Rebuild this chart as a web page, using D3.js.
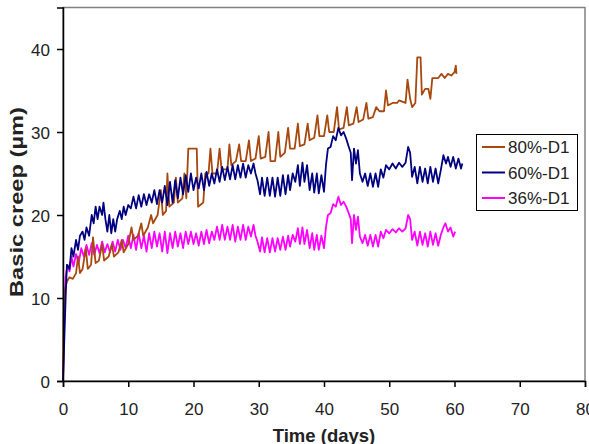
<!DOCTYPE html>
<html>
<head>
<meta charset="utf-8">
<script src="https://cdn.jsdelivr.net/npm/d3@7"></script>
<style>
body { margin: 0; background: #fff; }
svg { font-family: "Liberation Sans", Arial, sans-serif; }
</style>
</head>
<body>
<script>
var w = 589;
var h = 444;

// tick values
var xTicks = [0, 10, 20, 30, 40, 50, 60, 70, 80];
var yTicks = [0, 10, 20, 30, 40];

var names = ["80%-D1", "60%-D1", "36%-D1"];
var colors = ["#a8480f", "#000080", "#ff00ff"];

// [days, creep µm]
var s80 = [[0,0],[0.1,8],[0.3,11],[0.6,12],[1,12.5],[1.5,12.3],[2,13],[2.3,15],[2.6,13],[3,13.5],[3.5,16],[3.8,13.5],
  [4.3,14],[4.6,17.3],[5,14.2],[5.5,14.5],[6,16.5],[6.3,14.5],[7,15],[7.5,16.5],[7.8,15],[8.5,15.5],[9,17],[9.3,15.5],
  [10,16.5],[10.5,18.5],[10.8,17],[11.5,17.5],[12,19],[12.3,17.5],[13,18.5],[13.5,20],[13.8,19],[14.5,20],[15,23],[15.3,20],
  [15.8,20.5],[16,25],[16.3,21],[17,21.5],[17.3,24.5],[17.6,21.5],[18.3,22],[18.6,25],[18.9,22],[19.2,28],[20.5,28],[20.7,21],
  [21.5,21.5],[21.8,25],[22.3,25],[22.6,28],[22.9,25],[23.6,25],[24,28],[24.3,25.5],[25.2,25.5],[25.5,28.5],[25.8,26],
  [26.5,26.5],[27,28.5],[27.3,26.5],[28,26.5],[28.5,29],[28.8,26.5],[29.5,26.8],[30,29.5],[30.3,26.8],[31,27],[31.5,30],
  [31.8,26.5],[32.5,26.5],[33,30],[33.3,27],[34,27.5],[34.5,30.5],[34.8,28],[35.5,28],[36,31],[36.3,28.3],[37,28.5],
  [37.5,31],[37.8,29],[38.5,29.3],[39,32],[39.3,29.5],[40,29.5],[40.5,32],[40.8,30],[41.5,30],[42,33],[42.3,30.3],[43,30.5],
  [43.5,33],[43.8,30.8],[44.5,31],[45,33],[45.3,31.2],[46,31.5],[46.5,33.5],[46.8,31.6],[47.5,31.8],[48,33],[48.5,32.5],
  [49.2,32.5],[49.5,35],[49.8,33.2],[50.5,33.5],[51.2,33.5],[51.5,33.8],[52.5,33.5],[52.8,36.3],[53.2,34],[53.5,33],
  [54,33.5],[54.3,39],[54.8,39],[55,34.5],[55.5,35.2],[56,35.2],[56.3,34],[56.6,36.5],[57.5,36.5],[58,37],[58.5,36.5],
  [59,37],[59.5,36.8],[60,37.2],[60.2,38],[60.3,37]];

var s60 = [[0,0],[0.2,5],[0.4,10],[0.6,14],[1,13.5],[1.3,16],[1.6,15],[2,17],[2.3,15.8],[2.6,17.5],[3,18],[3.3,17],
  [3.6,18.5],[4,17.5],[4.4,20],[4.7,19],[5,21],[5.3,19.5],[5.6,21],[6,20],[6.2,21.5],[6.5,19.5],[6.8,18],[7.1,20],[7.4,17.8],
  [7.7,19.5],[8,18],[8.3,19.5],[8.7,20.5],[9,19.5],[9.3,21],[9.6,20],[10,21.2],[10.4,20.8],[10.8,22.2],[11.2,20.8],
  [11.6,22.4],[12,21],[12.4,22.5],[12.8,21.2],[13.2,22.5],[13.6,21.5],[14,23],[14.4,21.3],[14.8,23],[15.2,21.5],[15.6,23.5],
  [16,21.2],[16.4,24],[16.8,21.5],[17.2,24.2],[17.6,22],[18,24.5],[18.4,22.5],[18.8,24.8],[19.2,22.8],[19.6,25],[20,23],
  [20.4,24.5],[20.8,23.2],[21.2,25],[21.6,23],[22,25.2],[22.4,23.5],[22.8,25],[23.2,23.8],[23.6,25.5],[24,24],[24.4,25.8],
  [24.8,24.2],[25.2,25.8],[25.6,24.3],[26,26],[26.4,24.3],[26.8,26],[27.2,24.5],[27.6,26.2],[28,24.5],[28.4,26],[28.8,25],
  [29.2,26.2],[29.5,25],[29.8,24.2],[30.2,22.5],[30.5,24.5],[30.9,22.3],[31.3,24.5],[31.7,22.3],[32.1,24.5],[32.5,22.2],
  [32.9,24.5],[33.3,22.3],[33.7,24.8],[34.1,22.5],[34.5,24.8],[34.8,23],[35.2,25],[35.6,24],[36,26],[36.3,23.5],[36.7,26.3],
  [37,24],[37.4,26],[37.8,23],[38.2,25],[38.5,22.7],[38.9,25],[39.2,22.6],[39.6,24.8],[40,22.8],[40.3,26],[40.6,28],
  [41,28.2],[41.4,29.5],[41.8,29],[42.2,30.5],[42.6,29.6],[43,30],[43.4,29.2],[43.8,28.2],[44.1,27.5],[44.3,24.2],[44.6,28],
  [44.9,26.2],[45.2,27.8],[45.5,25],[45.9,24],[46.3,25],[46.7,23.5],[47.1,25],[47.5,23.4],[47.9,25],[48.3,23.4],[48.7,25.5],
  [49.1,24.5],[49.5,26],[50,25.5],[50.5,26.2],[51,25.6],[51.5,26.3],[52,25.8],[52.5,26.3],[52.9,28.2],[53.2,27.5],
  [53.5,24.6],[53.9,25.8],[54.3,23.8],[54.7,25.8],[55.1,24],[55.5,25.6],[55.9,23.8],[56.3,25.8],[56.7,24],[57.1,25.6],
  [57.5,23.8],[57.9,25.4],[58.3,27.2],[58.7,26.2],[59,27],[59.4,25.8],[59.8,27],[60.2,25.6],[60.6,26.8],[61,25.6],[61.2,26.2]];

var s36 = [[0,0],[0.2,8],[0.4,12.5],[0.7,14],[1,13.2],[1.3,15],[1.6,13.8],[2,15.3],[2.4,14.2],[2.8,16],[3.2,15],
  [3.6,16.4],[4,15.2],[4.4,16.6],[4.8,15.2],[5.2,16.4],[5.6,15.4],[6,16.8],[6.4,15.5],[6.8,16.5],[7.2,15.5],[7.6,16.8],
  [8,15.6],[8.4,17],[8.8,15.8],[9.2,17],[9.6,16],[10,17.5],[10.4,16],[10.8,17.6],[11.2,15.8],[11.6,17.8],[12,16],[12.4,17.5],
  [12.8,15.6],[13.2,17.8],[13.6,16],[14,18],[14.4,16.2],[14.8,17.8],[15.2,15.6],[15.6,18],[16,15.4],[16.4,17.8],[16.8,16],
  [17.2,18],[17.6,16.2],[18,17.8],[18.4,16],[18.8,18],[19.2,16.5],[19.6,18],[20,16.5],[20.4,17.8],[20.8,16.3],[21.2,18],
  [21.6,16.5],[22,18.2],[22.4,16.6],[22.8,18],[23.2,17],[23.6,18.6],[24,17],[24.4,18.8],[24.8,17],[25.2,18.6],[25.6,17],
  [26,18.8],[26.4,16.8],[26.8,18.6],[27.2,17],[27.6,18.8],[28,17],[28.4,18.6],[28.8,17.4],[29.2,18.8],[29.5,17.5],
  [29.8,16.8],[30.2,15.6],[30.5,17.3],[30.9,15.5],[31.3,17.2],[31.7,15.5],[32.1,17.2],[32.5,15.6],[32.9,17.2],[33.3,15.8],
  [33.7,17.4],[34.1,15.8],[34.5,17.5],[34.8,16.2],[35.2,17.6],[35.6,16.8],[36,18.4],[36.3,16.5],[36.7,18.5],[37,16.5],
  [37.4,18.2],[37.8,16],[38.2,17.8],[38.5,15.8],[38.9,17.6],[39.2,15.8],[39.6,17.5],[40,16],[40.3,18.5],[40.6,20],[41,20.2],
  [41.4,21.3],[41.8,21],[42.2,22.2],[42.6,21.2],[43,21.6],[43.4,21],[43.8,20.2],[44.1,19.5],[44.3,16.6],[44.6,20],[44.9,18.2],
  [45.2,19.8],[45.5,17.4],[45.9,16.6],[46.3,17.6],[46.7,16.3],[47.1,17.6],[47.5,16.2],[47.9,17.6],[48.3,16.2],[48.7,18],
  [49.1,17.2],[49.5,18.2],[50,17.8],[50.5,18.3],[51,17.9],[51.5,18.4],[52,18],[52.5,18.4],[52.9,20],[53.2,19.5],[53.5,17],
  [53.9,18],[54.3,16.3],[54.7,18],[55.1,16.4],[55.5,17.8],[55.9,16.2],[56.3,18],[56.7,16.4],[57.1,17.8],[57.5,16.3],
  [57.9,17.6],[58.3,18.5],[58.6,19],[59,18],[59.4,18.5],[59.8,17.4],[60.1,18]];

var series = [s80, s60, s36];

var svg = d3.select("body")
    .append("svg")
    .attr("width", w)
    .attr("height", h);

var xScale = d3.scaleLinear()
    .domain([0, 80])
    .range([63, 585]);
var yScale = d3.scaleLinear()
    .domain([0, 45])
    .range([381, 7.5]);

// grey top / right frame
svg.append("rect")
    .attr("x", xScale(0))
    .attr("y", yScale(45))
    .attr("width", xScale(80) - xScale(0))
    .attr("height", yScale(0) - yScale(45))
    .attr("fill", "none")
    .attr("stroke", "#808080")
    .attr("stroke-width", 1.5);

var line = d3.line()
    .x(function(d) { return xScale(d[0]); })
    .y(function(d) { return yScale(d[1]); });

// draw 36% first so brown & navy sit above it, like the original
[2, 0, 1].forEach(function(i) {
  svg.append("path")
    .datum(series[i])
    .attr("d", line)
    .attr("fill", "none")
    .attr("stroke", colors[i])
    .attr("stroke-width", 1.8)
    .attr("stroke-linejoin", "round");
});

var xAxis = d3.axisBottom(xScale)
    .tickValues(xTicks)
    .tickSizeOuter(0)
    .tickSize(6)
    .tickPadding(16);
var gx = svg.append("g")
    .attr("transform", "translate(0," + yScale(0) + ")")
    .call(xAxis);

var yAxis = d3.axisLeft(yScale)
    .tickValues(yTicks)
    .tickSizeOuter(0)
    .tickSize(6)
    .tickPadding(7);
var gy = svg.append("g")
    .attr("transform", "translate(" + xScale(0) + ",0)")
    .call(yAxis);

[gx, gy].forEach(function(g) {
  g.select(".domain").attr("stroke", "#000").attr("stroke-width", 1.5);
  g.selectAll(".tick line").attr("stroke", "#000").attr("stroke-width", 1.5);
  g.selectAll(".tick text")
    .attr("font-family", "Liberation Sans, Arial, sans-serif")
    .attr("font-size", "17px")
    .attr("fill", "#222");
});
gy.selectAll(".tick text").attr("dy", "0.36em");

// axis titles
svg.append("text")
    .attr("x", 324)
    .attr("y", 442)
    .attr("text-anchor", "middle")
    .attr("font-weight", "bold")
    .attr("font-size", "18.5px")
    .attr("fill", "#222")
    .text("Time (days)");

svg.append("text")
    .attr("transform", "translate(23,202) rotate(-90)")
    .attr("text-anchor", "middle")
    .attr("font-weight", "bold")
    .attr("font-size", "18.5px")
    .attr("textLength", 190)
    .attr("lengthAdjust", "spacingAndGlyphs")
    .attr("fill", "#222")
    .text("Basic creep (µm)");

// legend
var lg = svg.append("g");
lg.append("rect")
    .attr("x", 476.5)
    .attr("y", 134.5)
    .attr("width", 101)
    .attr("height", 76)
    .attr("fill", "#fff")
    .attr("stroke", "#000")
    .attr("stroke-width", 1);

names.forEach(function(n, i) {
  var yy = 147 + i * 25.5;
  lg.append("line")
    .attr("x1", 482).attr("x2", 505)
    .attr("y1", yy).attr("y2", yy)
    .attr("stroke", colors[i])
    .attr("stroke-width", 2);
  lg.append("text")
    .attr("x", 508)
    .attr("y", yy)
    .attr("dy", "0.36em")
    .attr("font-size", "17px")
    .attr("fill", "#222")
    .text(n);
});
</script>
</body>
</html>
